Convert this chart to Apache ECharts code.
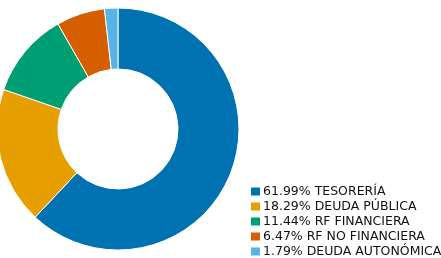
<!DOCTYPE html>
<html>
<head>
<meta charset="utf-8">
<script src="https://cdn.jsdelivr.net/npm/echarts@6/dist/echarts.min.js"></script>
<style>
  html, body { margin: 0; padding: 0; background: #fff; }
  #chart { width: 441px; height: 258px; }
</style>
</head>
<body>
<div id="chart"></div>
<script>
const categories = ['TESORERÍA', 'DEUDA PÚBLICA', 'RF FINANCIERA', 'RF NO FINANCIERA', 'DEUDA AUTONÓMICA']
const shares = [61.99, 18.29, 11.44, 6.47, 1.79]
const colors = ['#0072B2', '#E69F00', '#009E73', '#D55E00', '#56B4E9']

const chart = echarts.init(document.getElementById('chart'))

const labelFor = {}
categories.forEach((name, i) => {
  labelFor[name] = shares[i].toFixed(2) + '% ' + name
})

chart.setOption({
  animation: false,
  color: colors,
  legend: {
    orient: 'vertical',
    left: 249,
    top: 185,
    width: 200,
    height: 120,
    padding: 0,
    itemWidth: 11,
    itemHeight: 10,
    itemGap: 2,
    icon: 'rect',
    formatter: (name) => labelFor[name],
    textStyle: {
      fontFamily: 'DejaVu Sans',
      fontSize: 12.5,
      lineHeight: 12,
      color: '#111',
      padding: [0, 0, 0, -3],
    },
  },
  series: [
    {
      type: 'pie',
      center: [118, 129],
      radius: [60, 121],
      startAngle: 90,
      clockwise: true,
      label: { show: false },
      labelLine: { show: false },
      itemStyle: { borderColor: '#fff', borderWidth: 1 },
      data: categories.map((name, i) => ({ name, value: shares[i] })),
    },
  ],
})
</script>
</body>
</html>
